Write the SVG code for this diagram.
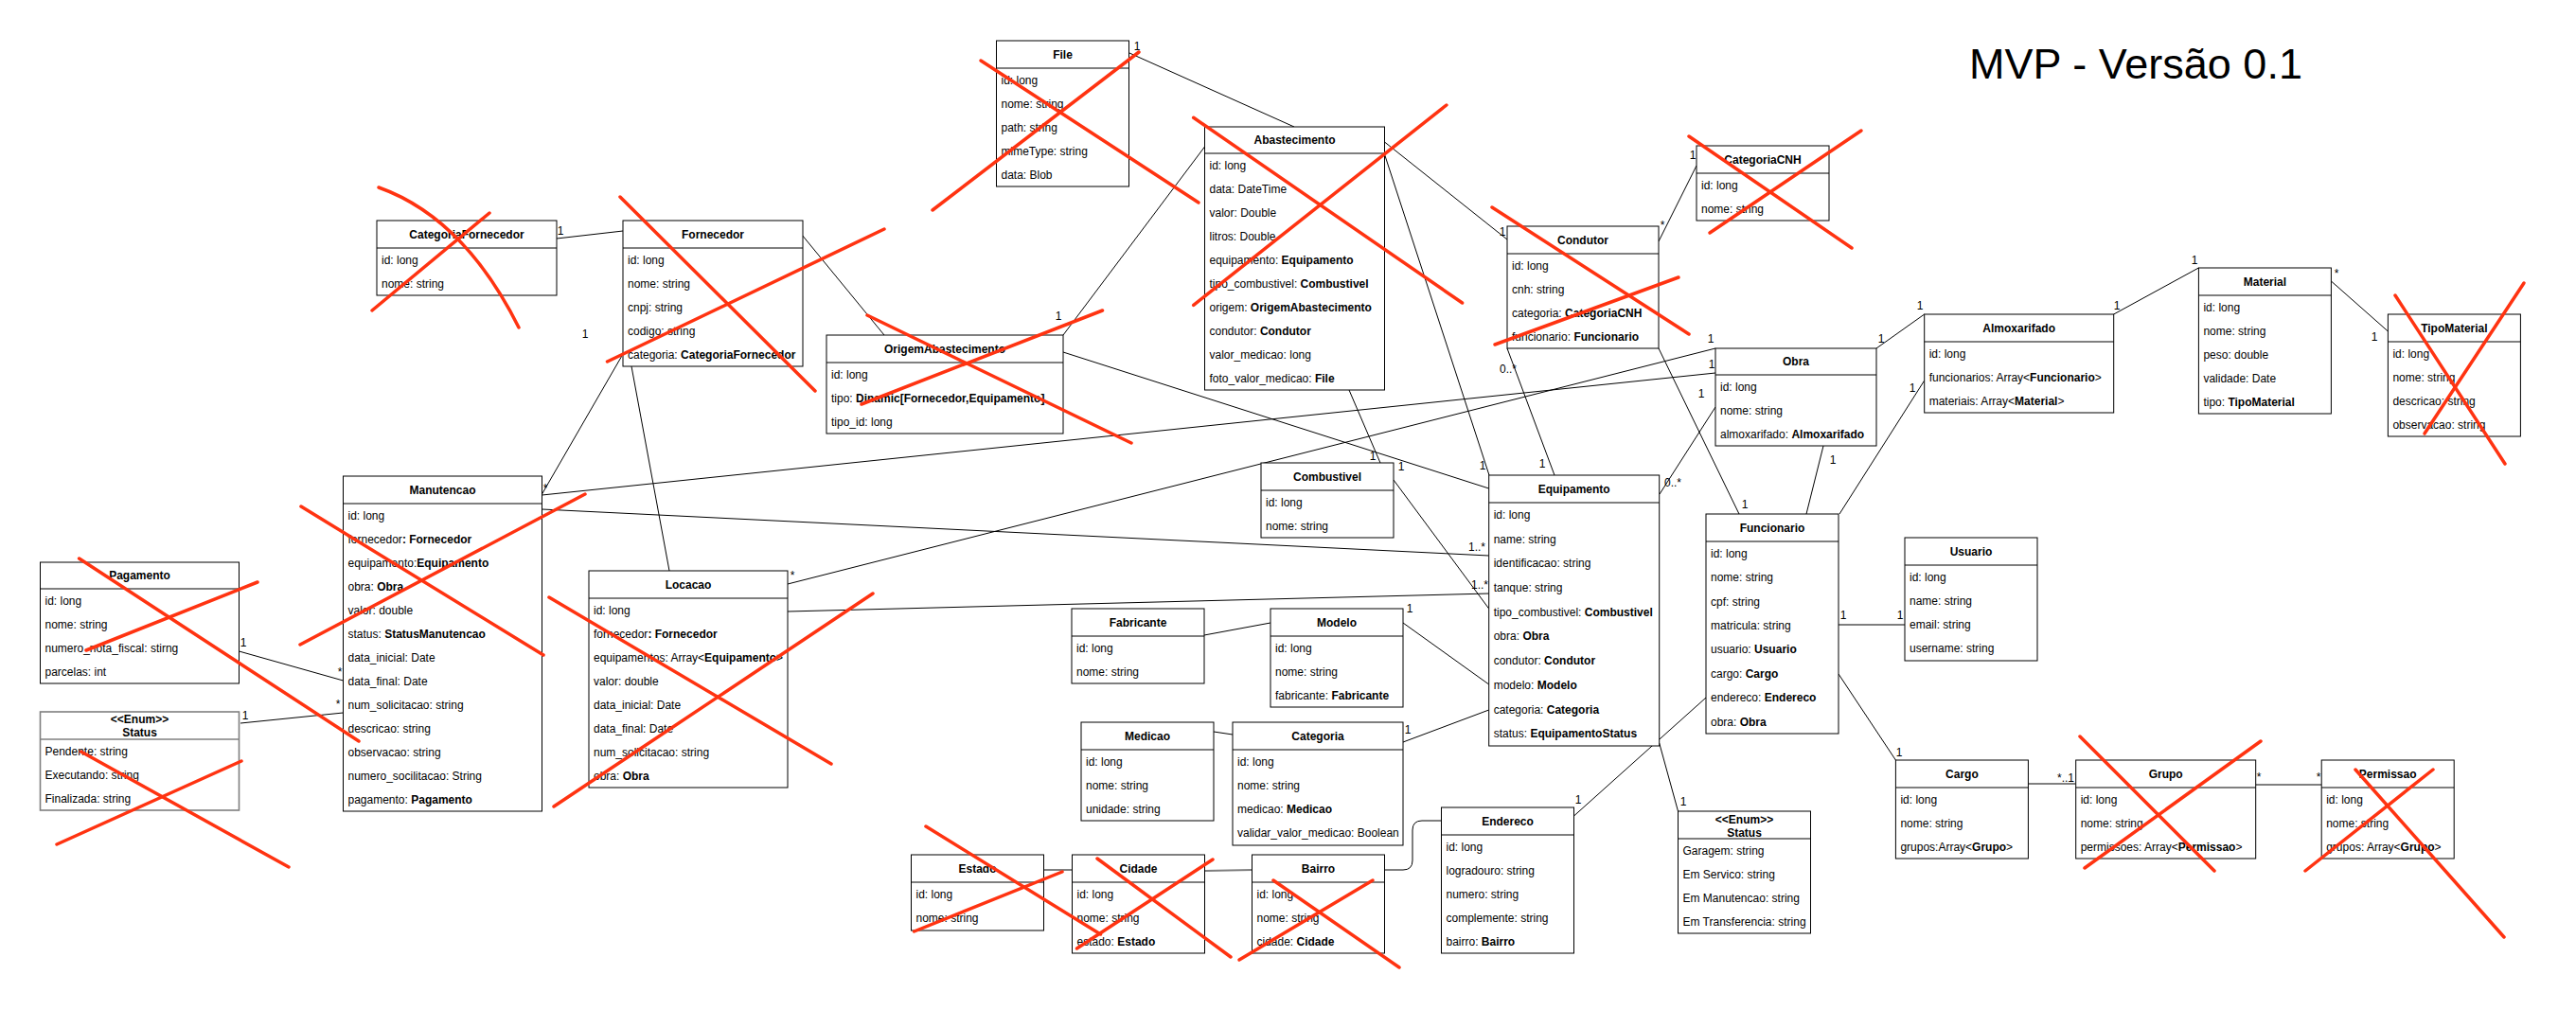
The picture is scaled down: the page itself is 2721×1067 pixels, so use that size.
<svg xmlns="http://www.w3.org/2000/svg" width="2721" height="1067" viewBox="0 0 2721 1067">
<style>
text{font-family:"Liberation Sans",Arial,Helvetica,sans-serif;font-size:12px;fill:#000}
.h{font-weight:bold;text-anchor:middle}
.b{font-weight:bold}
.l{text-anchor:middle}
.box{fill:#fff;stroke:#000;stroke-width:1}
.gbox{fill:#fff;stroke:#7f7f7f;stroke-width:1.6}
.sep{stroke:#000;stroke-width:1}
.gsep{stroke:#7f7f7f;stroke-width:1.6}
.c line,.c path{stroke:#000;stroke-width:1;fill:none}
.c .g{stroke:#7f7f7f;stroke-width:2}
.x line,.x path{stroke:#ff3311;stroke-width:3.5;stroke-linecap:round;fill:none}
.title{font-size:45px;text-anchor:middle}
</style>
<rect width="2721" height="1067" fill="#fff"/>
<text class="title" x="2256" y="83">MVP - Versão 0.1</text>

<g class="c" id="connectors">
<line x1="1193" y1="56" x2="1367" y2="134"/>
<line x1="1123" y1="354" x2="1272.5" y2="155"/>
<line x1="1123" y1="372" x2="1572.7" y2="516"/>
<line x1="1425" y1="412" x2="1458" y2="489"/>
<line x1="1462.5" y1="163" x2="1573" y2="502"/>
<line x1="1462.5" y1="150" x2="1592" y2="253"/>
<line x1="588" y1="252" x2="658" y2="244"/>
<line x1="847" y1="248" x2="934" y2="354"/>
<line x1="658" y1="374" x2="572.5" y2="522"/>
<line x1="667" y1="387" x2="707" y2="603"/>
<line x1="572.5" y1="523" x2="1812" y2="394"/>
<line x1="572.5" y1="538" x2="1572.7" y2="587"/>
<line x1="832" y1="617" x2="1812" y2="368"/>
<line x1="832" y1="646" x2="1572.7" y2="627"/>
<line x1="252.5" y1="688" x2="362.5" y2="719"/>
<line x1="254" y1="764" x2="362.5" y2="753"/>
<line x1="1752" y1="255" x2="1792" y2="175"/>
<line x1="1592" y1="368" x2="1642" y2="502"/>
<line x1="1752" y1="368" x2="1837" y2="543"/>
<line x1="1812" y1="430" x2="1753" y2="522"/>
<line x1="1926" y1="471" x2="1908" y2="543"/>
<line x1="1982" y1="368" x2="2032.7" y2="332"/>
<line x1="2032.7" y1="402" x2="1943" y2="543"/>
<line x1="2232.7" y1="332" x2="2322.4" y2="283"/>
<line x1="2462.4" y1="297" x2="2522.4" y2="350"/>
<line class="g" x1="1942" y1="660" x2="2012" y2="660"/>
<line x1="1942" y1="712" x2="2002.4" y2="803"/>
<line x1="1802" y1="737" x2="1662.5" y2="862"/>
<line x1="1752.7" y1="785" x2="1772.5" y2="857"/>
<line x1="1472" y1="507" x2="1572.7" y2="643"/>
<line x1="1482" y1="658" x2="1572.7" y2="723"/>
<line x1="1482" y1="784" x2="1572.7" y2="750"/>
<line x1="1272" y1="671" x2="1342" y2="658"/>
<line x1="1282" y1="773" x2="1302" y2="776"/>
<line class="g" x1="1102.5" y1="919" x2="1132.5" y2="919"/>
<line class="g" x1="1272.5" y1="920" x2="1322.5" y2="919"/>
<path d="M1462.5,919 H1482 Q1492,919 1492,909 V877 Q1492,867 1502,867 H1522.5"/>
<line x1="2142.4" y1="828" x2="2192.7" y2="828"/>
<line x1="2382.4" y1="829" x2="2452.2" y2="829"/>
<text class="l" x="1201" y="53">1</text>
<text class="l" x="1118" y="338">1</text>
<text class="l" x="1450" y="486">1</text>
<text class="l" x="1566" y="496">1</text>
<text class="l" x="1587" y="249">1</text>
<text class="l" x="592" y="248">1</text>
<text class="l" x="618" y="357">1</text>
<text class="l" x="576" y="520">*</text>
<text class="l" x="1808" y="389">1</text>
<text class="l" x="1560" y="582">1..*</text>
<text class="l" x="837" y="612">*</text>
<text class="l" x="1807" y="362">1</text>
<text class="l" x="1563" y="622">1..*</text>
<text class="l" x="257" y="683">1</text>
<text class="l" x="359" y="714">*</text>
<text class="l" x="259" y="760">1</text>
<text class="l" x="357" y="748">*</text>
<text class="l" x="1756" y="242">*</text>
<text class="l" x="1788" y="168">1</text>
<text class="l" x="1593" y="394">0..*</text>
<text class="l" x="1629" y="494">1</text>
<text class="l" x="1843" y="537">1</text>
<text class="l" x="1797" y="420">1</text>
<text class="l" x="1767" y="514">0..*</text>
<text class="l" x="1936" y="490">1</text>
<text class="l" x="1987" y="362">1</text>
<text class="l" x="2028" y="327">1</text>
<text class="l" x="2020" y="414">1</text>
<text class="l" x="2236" y="327">1</text>
<text class="l" x="2318" y="279">1</text>
<text class="l" x="2468" y="293">*</text>
<text class="l" x="2508" y="360">1</text>
<text class="l" x="1947" y="654">1</text>
<text class="l" x="2007" y="654">1</text>
<text class="l" x="2006" y="799">1</text>
<text class="l" x="1667" y="849">1</text>
<text class="l" x="1778" y="851">1</text>
<text class="l" x="1480" y="497">1</text>
<text class="l" x="1489" y="647">1</text>
<text class="l" x="1487" y="775">1</text>
<text class="l" x="2182" y="826">*..1</text>
<text class="l" x="2386" y="825">*</text>
<text class="l" x="2449" y="825">*</text>
</g>

<g id="File">
<rect class="box" x="1052.5" y="43" width="140" height="154"/>
<line class="sep" x1="1052.5" y1="72" x2="1192.5" y2="72"/>
<text class="h" x="1122.5" y="61.5">File</text>
<text x="1057.5" y="88.5">id: long</text>
<text x="1057.5" y="113.5">nome: string</text>
<text x="1057.5" y="138.5">path: string</text>
<text x="1057.5" y="163.5">mimeType: string</text>
<text x="1057.5" y="188.5">data: Blob</text>
</g>

<g id="Abastecimento">
<rect class="box" x="1272.5" y="134" width="190" height="278"/>
<line class="sep" x1="1272.5" y1="162" x2="1462.5" y2="162"/>
<text class="h" x="1367.5" y="152">Abastecimento</text>
<text x="1277.5" y="178.5">id: long</text>
<text x="1277.5" y="203.5">data: DateTime</text>
<text x="1277.5" y="228.5">valor: Double</text>
<text x="1277.5" y="253.5">litros: Double</text>
<text x="1277.5" y="278.5">equipamento: <tspan class="b">Equipamento</tspan></text>
<text x="1277.5" y="303.5">tipo_combustivel: <tspan class="b">Combustivel</tspan></text>
<text x="1277.5" y="328.5">origem: <tspan class="b">OrigemAbastecimento</tspan></text>
<text x="1277.5" y="353.5">condutor: <tspan class="b">Condutor</tspan></text>
<text x="1277.5" y="378.5">valor_medicao: long</text>
<text x="1277.5" y="403.5">foto_valor_medicao: <tspan class="b">File</tspan></text>
</g>

<g id="CategoriaFornecedor">
<rect class="box" x="398" y="233" width="190" height="79"/>
<line class="sep" x1="398" y1="262" x2="588" y2="262"/>
<text class="h" x="493" y="251.5">CategoriaFornecedor</text>
<text x="403" y="278.5">id: long</text>
<text x="403" y="303.5">nome: string</text>
</g>

<g id="Fornecedor">
<rect class="box" x="658" y="233" width="190" height="154"/>
<line class="sep" x1="658" y1="262" x2="848" y2="262"/>
<text class="h" x="753" y="251.5">Fornecedor</text>
<text x="663" y="278.5">id: long</text>
<text x="663" y="303.5">nome: string</text>
<text x="663" y="328.5">cnpj: string</text>
<text x="663" y="353.5">codigo: string</text>
<text x="663" y="378.5">categoria: <tspan class="b">CategoriaFornecedor</tspan></text>
</g>

<g id="OrigemAbastecimento">
<rect class="box" x="873" y="354" width="250" height="104"/>
<line class="sep" x1="873" y1="383" x2="1123" y2="383"/>
<text class="h" x="998" y="372.5">OrigemAbastecimento</text>
<text x="878" y="399.5">id: long</text>
<text x="878" y="424.5">tipo: <tspan class="b">Dinamic[Fornecedor,Equipamento]</tspan></text>
<text x="878" y="449.5">tipo_id: long</text>
</g>

<g id="Manutencao">
<rect class="box" x="362.5" y="503" width="210" height="354"/>
<line class="sep" x1="362.5" y1="532" x2="572.5" y2="532"/>
<text class="h" x="467.5" y="521.5">Manutencao</text>
<text x="367.5" y="548.5">id: long</text>
<text x="367.5" y="573.5">fornecedor<tspan class="b">: Fornecedor</tspan></text>
<text x="367.5" y="598.5">equipamento:<tspan class="b">Equipamento</tspan></text>
<text x="367.5" y="623.5">obra: <tspan class="b">Obra</tspan></text>
<text x="367.5" y="648.5">valor: double</text>
<text x="367.5" y="673.5">status: <tspan class="b">StatusManutencao</tspan></text>
<text x="367.5" y="698.5">data_inicial: Date</text>
<text x="367.5" y="723.5">data_final: Date</text>
<text x="367.5" y="748.5">num_solicitacao: string</text>
<text x="367.5" y="773.5">descricao: string</text>
<text x="367.5" y="798.5">observacao: string</text>
<text x="367.5" y="823.5">numero_socilitacao: String</text>
<text x="367.5" y="848.5">pagamento: <tspan class="b">Pagamento</tspan></text>
</g>

<g id="Pagamento">
<rect class="box" x="42.5" y="594" width="210" height="128"/>
<line class="sep" x1="42.5" y1="622" x2="252.5" y2="622"/>
<text class="h" x="147.5" y="612">Pagamento</text>
<text x="47.5" y="638.5">id: long</text>
<text x="47.5" y="663.5">nome: string</text>
<text x="47.5" y="688.5">numero_nota_fiscal: stirng</text>
<text x="47.5" y="713.5">parcelas: int</text>
</g>

<g id="StatusManutencao">
<rect class="gbox" x="42.5" y="752" width="210" height="104"/>
<line class="gsep" x1="42.5" y1="781" x2="252.5" y2="781"/>
<text class="h" x="147.5" y="763.5">&lt;&lt;Enum&gt;&gt;</text>
<text class="h" x="147.5" y="778">Status</text>
<text x="47.5" y="797.5">Pendente: string</text>
<text x="47.5" y="822.5">Executando: string</text>
<text x="47.5" y="847.5">Finalizada: string</text>
</g>

<g id="Locacao">
<rect class="box" x="622" y="603" width="210" height="229"/>
<line class="sep" x1="622" y1="632" x2="832" y2="632"/>
<text class="h" x="727" y="621.5">Locacao</text>
<text x="627" y="648.5">id: long</text>
<text x="627" y="673.5">fornecedor<tspan class="b">: Fornecedor</tspan></text>
<text x="627" y="698.5">equipamentos: Array&lt;<tspan class="b">Equipamento</tspan>&gt;</text>
<text x="627" y="723.5">valor: double</text>
<text x="627" y="748.5">data_inicial: Date</text>
<text x="627" y="773.5">data_final: Date</text>
<text x="627" y="798.5">num_solicitacao: string</text>
<text x="627" y="823.5">obra: <tspan class="b">Obra</tspan></text>
</g>

<g id="Condutor">
<rect class="box" x="1592" y="239" width="160" height="129"/>
<line class="sep" x1="1592" y1="268" x2="1752" y2="268"/>
<text class="h" x="1672" y="257.5">Condutor</text>
<text x="1597" y="284.5">id: long</text>
<text x="1597" y="309.5">cnh: string</text>
<text x="1597" y="334.5">categoria: <tspan class="b">CategoriaCNH</tspan></text>
<text x="1597" y="359.5">funcionario: <tspan class="b">Funcionario</tspan></text>
</g>

<g id="CategoriaCNH">
<rect class="box" x="1792" y="154" width="140" height="79"/>
<line class="sep" x1="1792" y1="183" x2="1932" y2="183"/>
<text class="h" x="1862" y="172.5">CategoriaCNH</text>
<text x="1797" y="199.5">id: long</text>
<text x="1797" y="224.5">nome: string</text>
</g>

<g id="Obra">
<rect class="box" x="1812" y="368" width="170" height="103"/>
<line class="sep" x1="1812" y1="396" x2="1982" y2="396"/>
<text class="h" x="1897" y="386">Obra</text>
<text x="1817" y="412.5">id: long</text>
<text x="1817" y="437.5">nome: string</text>
<text x="1817" y="462.5">almoxarifado: <tspan class="b">Almoxarifado</tspan></text>
</g>

<g id="Equipamento">
<rect class="box" x="1572.7" y="502" width="180" height="286"/>
<line class="sep" x1="1572.7" y1="531" x2="1752.7" y2="531"/>
<text class="h" x="1662.7" y="520.5">Equipamento</text>
<text x="1577.7" y="547.9">id: long</text>
<text x="1577.7" y="573.6">name: string</text>
<text x="1577.7" y="599.3">identificacao: string</text>
<text x="1577.7" y="625">tanque: string</text>
<text x="1577.7" y="650.7">tipo_combustivel: <tspan class="b">Combustivel</tspan></text>
<text x="1577.7" y="676.4">obra: <tspan class="b">Obra</tspan></text>
<text x="1577.7" y="702.1">condutor: <tspan class="b">Condutor</tspan></text>
<text x="1577.7" y="727.8">modelo: <tspan class="b">Modelo</tspan></text>
<text x="1577.7" y="753.5">categoria: <tspan class="b">Categoria</tspan></text>
<text x="1577.7" y="779.2">status: <tspan class="b">EquipamentoStatus</tspan></text>
</g>

<g id="Combustivel">
<rect class="box" x="1332" y="489" width="140" height="79"/>
<line class="sep" x1="1332" y1="518" x2="1472" y2="518"/>
<text class="h" x="1402" y="507.5">Combustivel</text>
<text x="1337" y="534.5">id: long</text>
<text x="1337" y="559.5">nome: string</text>
</g>

<g id="Fabricante">
<rect class="box" x="1132" y="643" width="140" height="79"/>
<line class="sep" x1="1132" y1="672" x2="1272" y2="672"/>
<text class="h" x="1202" y="661.5">Fabricante</text>
<text x="1137" y="688.5">id: long</text>
<text x="1137" y="713.5">nome: string</text>
</g>

<g id="Modelo">
<rect class="box" x="1342" y="643" width="140" height="104"/>
<line class="sep" x1="1342" y1="672" x2="1482" y2="672"/>
<text class="h" x="1412" y="661.5">Modelo</text>
<text x="1347" y="688.5">id: long</text>
<text x="1347" y="713.5">nome: string</text>
<text x="1347" y="738.5">fabricante: <tspan class="b">Fabricante</tspan></text>
</g>

<g id="Medicao">
<rect class="box" x="1142" y="763" width="140" height="104"/>
<line class="sep" x1="1142" y1="792" x2="1282" y2="792"/>
<text class="h" x="1212" y="781.5">Medicao</text>
<text x="1147" y="808.5">id: long</text>
<text x="1147" y="833.5">nome: string</text>
<text x="1147" y="858.5">unidade: string</text>
</g>

<g id="Categoria">
<rect class="box" x="1302" y="763" width="180" height="130"/>
<line class="sep" x1="1302" y1="792" x2="1482" y2="792"/>
<text class="h" x="1392" y="781.5">Categoria</text>
<text x="1307" y="808.5">id: long</text>
<text x="1307" y="833.5">nome: string</text>
<text x="1307" y="858.5">medicao: <tspan class="b">Medicao</tspan></text>
<text x="1307" y="883.5">validar_valor_medicao: Boolean</text>
</g>

<g id="Estado">
<rect class="box" x="962.5" y="903" width="140" height="80"/>
<line class="sep" x1="962.5" y1="932" x2="1102.5" y2="932"/>
<text class="h" x="1032.5" y="921.5">Estado</text>
<text x="967.5" y="948.5">id: long</text>
<text x="967.5" y="973.5">nome: string</text>
</g>

<g id="Cidade">
<rect class="box" x="1132.5" y="903" width="140" height="104"/>
<line class="sep" x1="1132.5" y1="932" x2="1272.5" y2="932"/>
<text class="h" x="1202.5" y="921.5">Cidade</text>
<text x="1137.5" y="948.5">id: long</text>
<text x="1137.5" y="973.5">nome: string</text>
<text x="1137.5" y="998.5">estado: <tspan class="b">Estado</tspan></text>
</g>

<g id="Bairro">
<rect class="box" x="1322.5" y="903" width="140" height="104"/>
<line class="sep" x1="1322.5" y1="932" x2="1462.5" y2="932"/>
<text class="h" x="1392.5" y="921.5">Bairro</text>
<text x="1327.5" y="948.5">id: long</text>
<text x="1327.5" y="973.5">nome: string</text>
<text x="1327.5" y="998.5">cidade: <tspan class="b">Cidade</tspan></text>
</g>

<g id="Endereco">
<rect class="box" x="1522.5" y="853" width="140" height="154"/>
<line class="sep" x1="1522.5" y1="882" x2="1662.5" y2="882"/>
<text class="h" x="1592.5" y="871.5">Endereco</text>
<text x="1527.5" y="898.5">id: long</text>
<text x="1527.5" y="923.5">logradouro: string</text>
<text x="1527.5" y="948.5">numero: string</text>
<text x="1527.5" y="973.5">complemente: string</text>
<text x="1527.5" y="998.5">bairro: <tspan class="b">Bairro</tspan></text>
</g>

<g id="EquipamentoStatus">
<rect class="box" x="1772.5" y="857" width="140" height="129"/>
<line class="sep" x1="1772.5" y1="886" x2="1912.5" y2="886"/>
<text class="h" x="1842.5" y="870">&lt;&lt;Enum&gt;&gt;</text>
<text class="h" x="1842.5" y="884">Status</text>
<text x="1777.5" y="902.5">Garagem: string</text>
<text x="1777.5" y="927.5">Em Servico: string</text>
<text x="1777.5" y="952.5">Em Manutencao: string</text>
<text x="1777.5" y="977.5">Em Transferencia: string</text>
</g>

<g id="Funcionario">
<rect class="box" x="1802" y="543" width="140" height="232"/>
<line class="sep" x1="1802" y1="572" x2="1942" y2="572"/>
<text class="h" x="1872" y="561.5">Funcionario</text>
<text x="1807" y="588.7">id: long</text>
<text x="1807" y="614.1">nome: string</text>
<text x="1807" y="639.5">cpf: string</text>
<text x="1807" y="664.9">matricula: string</text>
<text x="1807" y="690.3">usuario: <tspan class="b">Usuario</tspan></text>
<text x="1807" y="715.7">cargo: <tspan class="b">Cargo</tspan></text>
<text x="1807" y="741.1">endereco: <tspan class="b">Endereco</tspan></text>
<text x="1807" y="766.5">obra: <tspan class="b">Obra</tspan></text>
</g>

<g id="Usuario">
<rect class="box" x="2012" y="568" width="140" height="130"/>
<line class="sep" x1="2012" y1="597" x2="2152" y2="597"/>
<text class="h" x="2082" y="586.5">Usuario</text>
<text x="2017" y="613.5">id: long</text>
<text x="2017" y="638.5">name: string</text>
<text x="2017" y="663.5">email: string</text>
<text x="2017" y="688.5">username: string</text>
</g>

<g id="Almoxarifado">
<rect class="box" x="2032.7" y="332" width="200" height="104"/>
<line class="sep" x1="2032.7" y1="361" x2="2232.7" y2="361"/>
<text class="h" x="2132.7" y="350.5">Almoxarifado</text>
<text x="2037.7" y="377.5">id: long</text>
<text x="2037.7" y="402.5">funcionarios: Array&lt;<tspan class="b">Funcionario</tspan>&gt;</text>
<text x="2037.7" y="427.5">materiais: Array&lt;<tspan class="b">Material</tspan>&gt;</text>
</g>

<g id="Material">
<rect class="box" x="2322.4" y="283" width="140" height="154"/>
<line class="sep" x1="2322.4" y1="312" x2="2462.4" y2="312"/>
<text class="h" x="2392.4" y="301.5">Material</text>
<text x="2327.4" y="328.5">id: long</text>
<text x="2327.4" y="353.5">nome: string</text>
<text x="2327.4" y="378.5">peso: double</text>
<text x="2327.4" y="403.5">validade: Date</text>
<text x="2327.4" y="428.5">tipo: <tspan class="b">TipoMaterial</tspan></text>
</g>

<g id="TipoMaterial">
<rect class="box" x="2522.4" y="332" width="140" height="129"/>
<line class="sep" x1="2522.4" y1="361" x2="2662.4" y2="361"/>
<text class="h" x="2592.4" y="350.5">TipoMaterial</text>
<text x="2527.4" y="377.5">id: long</text>
<text x="2527.4" y="402.5">nome: string</text>
<text x="2527.4" y="427.5">descricao: string</text>
<text x="2527.4" y="452.5">observacao: string</text>
</g>

<g id="Cargo">
<rect class="box" x="2002.4" y="803" width="140" height="104"/>
<line class="sep" x1="2002.4" y1="832" x2="2142.4" y2="832"/>
<text class="h" x="2072.4" y="821.5">Cargo</text>
<text x="2007.4" y="848.5">id: long</text>
<text x="2007.4" y="873.5">nome: string</text>
<text x="2007.4" y="898.5">grupos:Array&lt;<tspan class="b">Grupo</tspan>&gt;</text>
</g>

<g id="Grupo">
<rect class="box" x="2192.7" y="803" width="190" height="104"/>
<line class="sep" x1="2192.7" y1="832" x2="2382.7" y2="832"/>
<text class="h" x="2287.7" y="821.5">Grupo</text>
<text x="2197.7" y="848.5">id: long</text>
<text x="2197.7" y="873.5">nome: string</text>
<text x="2197.7" y="898.5">permissoes: Array&lt;<tspan class="b">Permissao</tspan>&gt;</text>
</g>

<g id="Permissao">
<rect class="box" x="2452.2" y="803" width="140" height="104"/>
<line class="sep" x1="2452.2" y1="832" x2="2592.2" y2="832"/>
<text class="h" x="2522.2" y="821.5">Permissao</text>
<text x="2457.2" y="848.5">id: long</text>
<text x="2457.2" y="873.5">nome: string</text>
<text x="2457.2" y="898.5">grupos: Array&lt;<tspan class="b">Grupo</tspan>&gt;</text>
</g>

<g class="x" id="crosses">
<line x1="1036" y1="64" x2="1266" y2="214"/>
<line x1="1203" y1="55" x2="985" y2="222"/>
<line x1="1260.7" y1="124.3" x2="1544.6" y2="320"/>
<line x1="1527.9" y1="111" x2="1260.7" y2="322.3"/>
<line x1="916" y1="333" x2="1195" y2="468"/>
<line x1="1164.5" y1="328" x2="910" y2="427"/>
<line x1="655" y1="208" x2="861" y2="413"/>
<line x1="934" y1="242" x2="641.5" y2="382"/>
<line x1="517" y1="225" x2="393" y2="328"/>
<path d="M400,198 Q490,230 548,346"/>
<line x1="1576" y1="219" x2="1784" y2="353"/>
<line x1="1773" y1="293" x2="1579" y2="364"/>
<line x1="1784" y1="144" x2="1956" y2="262"/>
<line x1="1966" y1="138" x2="1806" y2="246"/>
<line x1="318" y1="535" x2="574" y2="692"/>
<line x1="618" y1="522" x2="317" y2="681"/>
<line x1="83.6" y1="590" x2="379" y2="783"/>
<line x1="272" y1="615" x2="91" y2="687"/>
<line x1="85.5" y1="794" x2="305" y2="916"/>
<line x1="255" y1="804" x2="60" y2="892"/>
<line x1="580" y1="631" x2="878" y2="807"/>
<line x1="922" y1="627" x2="585" y2="852"/>
<line x1="978" y1="873" x2="1162.5" y2="987"/>
<line x1="1122" y1="921" x2="965.6" y2="984"/>
<line x1="1159" y1="907" x2="1300" y2="1011"/>
<line x1="1281" y1="908" x2="1137.5" y2="1002"/>
<line x1="1345" y1="930" x2="1478" y2="1022"/>
<line x1="1450" y1="930" x2="1309" y2="1014"/>
<line x1="2530" y1="312" x2="2646" y2="490"/>
<line x1="2666" y1="299" x2="2561" y2="458"/>
<line x1="2197" y1="778" x2="2339" y2="920"/>
<line x1="2388" y1="783" x2="2202" y2="917"/>
<line x1="2488" y1="813" x2="2645" y2="990"/>
<line x1="2570" y1="813" x2="2435" y2="920"/>
</g>
</svg>
